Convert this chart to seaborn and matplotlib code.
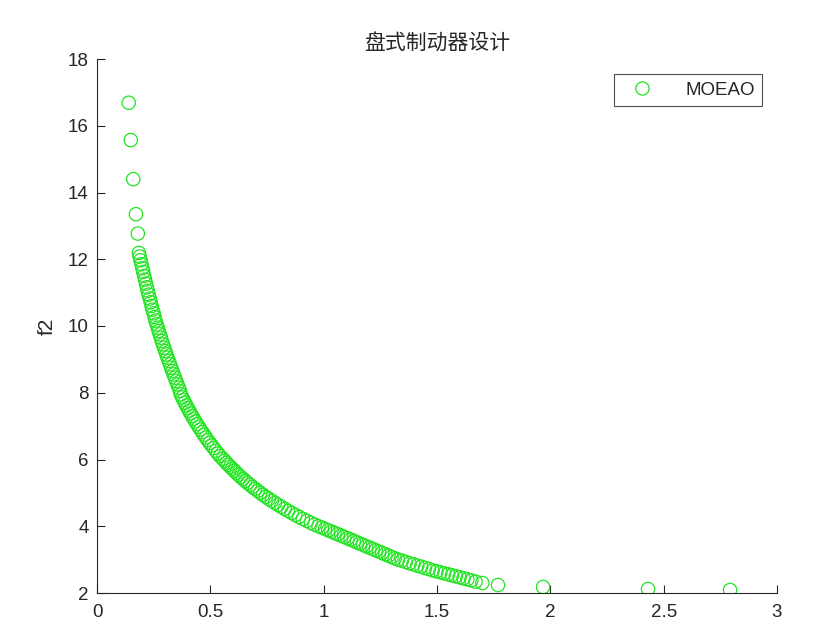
import numpy as np
import pandas as pd
import matplotlib
matplotlib.use("Agg")
import matplotlib.pyplot as plt
import seaborn as sns
from matplotlib.lines import Line2D

# Pareto front (f1 = x, f2 = y)
f1_head = [0.140, 0.149, 0.160, 0.172, 0.180]
f2_head = [16.69, 15.57, 14.40, 13.35, 12.77]

f1_a = [0.185, 0.188, 0.192, 0.196, 0.200, 0.204, 0.208, 0.212, 0.216, 0.220,
        0.224, 0.228, 0.233, 0.237, 0.241, 0.245, 0.250, 0.254, 0.258, 0.263]
f2_a = [12.19, 12.08, 11.97, 11.85, 11.73, 11.62, 11.50, 11.39, 11.27, 11.16,
        11.05, 10.94, 10.82, 10.71, 10.60, 10.49, 10.38, 10.27, 10.16, 10.05]

f1_b = [0.268, 0.272, 0.277, 0.282, 0.286, 0.291, 0.296, 0.301, 0.306, 0.311,
        0.317, 0.322, 0.327, 0.333, 0.338, 0.344, 0.349, 0.355, 0.361, 0.366]
f2_b = [9.95, 9.85, 9.75, 9.65, 9.55, 9.45, 9.35, 9.25, 9.15, 9.05,
        8.95, 8.85, 8.75, 8.65, 8.55, 8.45, 8.35, 8.25, 8.15, 8.05]

f1_c = [0.370, 0.376, 0.382, 0.388, 0.394, 0.400, 0.407, 0.413, 0.420, 0.427,
        0.434, 0.441, 0.449, 0.456, 0.464, 0.472, 0.480, 0.488, 0.497, 0.506,
        0.515, 0.524, 0.533, 0.543]
f2_c = [7.95, 7.86, 7.78, 7.70, 7.62, 7.54, 7.46, 7.38, 7.30, 7.22,
        7.14, 7.06, 6.98, 6.90, 6.82, 6.74, 6.66, 6.58, 6.50, 6.42,
        6.34, 6.26, 6.18, 6.10]

f1_d = [0.555, 0.563, 0.571, 0.579, 0.588, 0.597, 0.606, 0.615, 0.624, 0.634,
        0.644, 0.654, 0.664, 0.675, 0.686, 0.697, 0.709, 0.720, 0.732, 0.745,
        0.758, 0.771, 0.785, 0.799, 0.813, 0.828, 0.843, 0.859, 0.875, 0.891,
        0.908, 0.926, 0.944, 0.960, 0.977]
f2_d = [6.02, 5.96, 5.90, 5.84, 5.78, 5.72, 5.66, 5.60, 5.54, 5.48,
        5.42, 5.36, 5.30, 5.24, 5.18, 5.12, 5.06, 5.00, 4.94, 4.88,
        4.82, 4.76, 4.70, 4.64, 4.58, 4.52, 4.46, 4.40, 4.34, 4.28,
        4.22, 4.16, 4.10, 4.05, 4.00]

f1_e = [0.992, 1.006, 1.020, 1.034, 1.048, 1.062, 1.077, 1.091, 1.105, 1.119,
        1.133, 1.146, 1.160, 1.174, 1.188, 1.202, 1.216, 1.230, 1.244, 1.258,
        1.272, 1.286, 1.300, 1.314, 1.328]
f2_e = [3.96, 3.92, 3.88, 3.84, 3.80, 3.76, 3.72, 3.68, 3.64, 3.60,
        3.56, 3.52, 3.48, 3.44, 3.40, 3.36, 3.32, 3.28, 3.24, 3.20,
        3.16, 3.12, 3.08, 3.04, 3.00]

f1_f = [1.345, 1.362, 1.379, 1.396, 1.413, 1.430, 1.447, 1.464, 1.481, 1.498,
        1.515, 1.532, 1.549, 1.566, 1.583, 1.600, 1.617, 1.634, 1.651, 1.670,
        1.700, 1.769]
f2_f = [2.97, 2.93, 2.89, 2.86, 2.82, 2.79, 2.75, 2.72, 2.68, 2.65,
        2.62, 2.59, 2.56, 2.53, 2.50, 2.47, 2.44, 2.41, 2.38, 2.34,
        2.30, 2.24]

f1_tail = [1.968, 2.431, 2.793]
f2_tail = [2.18, 2.12, 2.09]

x_ticks = [0, 0.5, 1, 1.5, 2, 2.5, 3]
x_tick_labels = ["0", "0.5", "1", "1.5", "2", "2.5", "3"]
y_ticks = [2, 4, 6, 8, 10, 12, 14, 16, 18]

df = pd.DataFrame({
    "f1": f1_head + f1_a + f1_b + f1_c + f1_d + f1_e + f1_f + f1_tail,
    "f2": f2_head + f2_a + f2_b + f2_c + f2_d + f2_e + f2_f + f2_tail,
})

sns.set_theme(style="white")
plt.rcParams["font.family"] = ["Liberation Sans", "Noto Sans CJK SC", "DejaVu Sans"]

GREEN = "#22e422"
AX_COLOR = "#262626"

fig = plt.figure(figsize=(8.3, 6.24), dpi=100)
ax = fig.add_axes([97 / 830, 31 / 624, 680 / 830, 534 / 624])

sns.scatterplot(data=df, x="f1", y="f2", ax=ax, marker="o", s=92,
                facecolors="none", edgecolor=GREEN, linewidth=0.9, legend=False)

ax.set_xlim(0, 3)
ax.set_ylim(2, 18)
ax.set_xticks(x_ticks)
ax.set_xticklabels(x_tick_labels)
ax.set_yticks(y_ticks)
ax.tick_params(direction="in", length=6, width=0.8, colors=AX_COLOR,
               labelsize=13.5, pad=6, bottom=True, left=True)
ax.tick_params(axis="x", pad=8)
for side in ["top", "right"]:
    ax.spines[side].set_visible(False)
for side in ["left", "bottom"]:
    ax.spines[side].set_color(AX_COLOR)
    ax.spines[side].set_linewidth(0.8)

ax.set_xlabel("")
ax.set_ylabel("f2", fontsize=15, color=AX_COLOR, labelpad=8)
ax.set_title("盘式制动器设计", fontsize=15, color=AX_COLOR, pad=7,
             family=["Noto Sans CJK SC", "DejaVu Sans"], fontweight="light")

handle = Line2D([], [], linestyle="none", marker="o", markersize=9.5,
                markerfacecolor="none", markeredgecolor=GREEN, markeredgewidth=0.9)
leg = ax.legend([handle], ["MOEAO"], loc="upper right",
                bbox_to_anchor=(0.978, 0.972), fontsize=13.5, frameon=True,
                fancybox=False, edgecolor=AX_COLOR, handlelength=2.2,
                handletextpad=1.2, borderpad=0.4, borderaxespad=0)
leg.get_frame().set_linewidth(0.8)

fig.savefig("out.png", dpi=100)
